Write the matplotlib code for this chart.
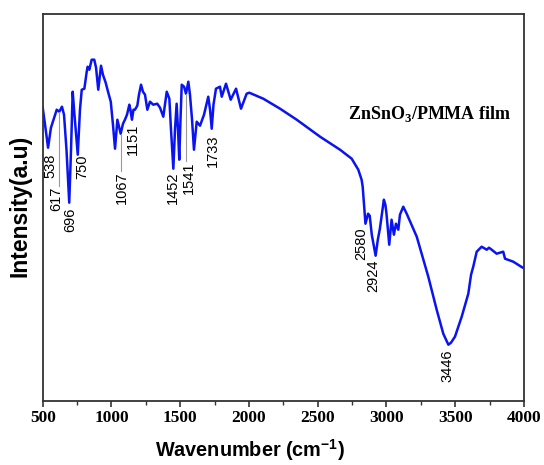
import matplotlib
matplotlib.use("Agg")
import matplotlib.pyplot as plt
from matplotlib.ticker import MultipleLocator

wavenumber = [500, 517, 539, 560, 602, 621, 640, 655, 673, 693, 706, 718, 731, 755, 771, 784,
              803, 820, 827, 839, 856, 875, 888, 904, 917, 924, 938, 958, 977, 995, 1011, 1026,
              1043, 1067, 1084, 1098, 1113, 1130, 1138, 1149, 1160, 1171, 1188, 1200, 1215, 1229,
              1244, 1261, 1280, 1304, 1333, 1353, 1377, 1402, 1421, 1433, 1450, 1462, 1474, 1484,
              1493, 1502, 1511, 1528, 1542, 1559, 1571, 1586, 1600, 1620, 1644, 1673, 1704, 1717,
              1729, 1742, 1760, 1789, 1802, 1833, 1867, 1906, 1942, 1983, 2002, 2104, 2226, 2347,
              2517, 2662, 2747, 2795, 2819, 2827, 2836, 2847, 2866, 2878, 2893, 2921, 2937, 2952,
              2981, 2992, 3000, 3020, 3037, 3054, 3069, 3086, 3098, 3122, 3147, 3220, 3268, 3304,
              3365, 3413, 3450, 3469, 3498, 3547, 3595, 3615, 3631, 3656, 3692, 3729, 3745, 3765,
              3801, 3825, 3849, 3862, 3922, 3991, 4000]
intensity = [293, 276, 253, 273, 291, 289, 294, 286, 251, 198, 251, 309, 286, 246, 291, 311,
             312, 329, 334, 331, 341, 341, 333, 311, 326, 335, 326, 318, 308, 299, 276, 252,
             281, 267, 277, 281, 286, 296, 291, 281, 291, 291, 295, 306, 316, 309,
             306, 291, 299, 296, 297, 293, 284, 309, 302, 271, 232, 271, 297, 271,
             241, 281, 316, 314, 307, 319, 306, 281, 251, 279, 275, 286, 304, 291,
             272, 296, 312, 314, 304, 317, 301, 312, 292, 307, 308, 302, 292, 281,
             264, 251, 242, 231, 221, 214, 197, 177, 187, 185, 166, 145, 161, 172,
             201, 196, 187, 156, 181, 166, 177, 171, 186, 194, 187, 164, 141, 124,
             91, 67, 56, 58, 64, 84, 107, 126, 134, 149, 154, 151, 153, 151,
             147, 148, 149, 142, 139, 133, 133]

peak_labels = ["538", "617", "696", "750", "1067", "1151", "1452", "1541", "1733", "2580", "2924", "3446"]
label_x = [558, 602, 699, 784, 1074, 1159, 1445, 1564, 1736, 2820, 2904, 3440]
label_top = [247, 214, 193, 246, 229, 277, 229, 239, 266, 173, 141, 51]
# leader lines: (x, y_from, y_to)
leader_x = [621, 1067, 1542]
leader_y0 = [289, 267, 307]
leader_y1 = [215, 230, 240]

xticks = [500, 1000, 1500, 2000, 2500, 3000, 3500, 4000]

fig = plt.figure(figsize=(5.44, 4.65), dpi=100)
ax = fig.add_axes([42.7/544, 1 - 400.7/465, (524 - 42.7)/544, (400.7 - 14)/465])

ax.plot(wavenumber, intensity, color="#0A14F0", lw=1.8, solid_joinstyle="round")

for xx, y0, y1 in zip(leader_x, leader_y0, leader_y1):
    ax.plot([xx, xx], [y0, y1], color="#999999", lw=0.8)

for lab, xx, yy in zip(peak_labels, label_x, label_top):
    ax.text(xx, yy, lab, rotation=90, ha="center", va="top",
            fontsize=10.5, family="Liberation Sans", color="black")

ax.text(0.804, 0.741, r"ZnSnO$_\mathregular{3}$/PMMA film", transform=ax.transAxes,
        ha="center", va="center", fontsize=13, family="Liberation Serif",
        fontweight="bold")

ax.set_xlim(500, 4000)
ax.set_ylim(0, 386.7)
ax.set_xticks(xticks)
ax.set_xticklabels([str(t) for t in xticks], family="Liberation Serif",
                   fontweight="bold", fontsize=12.5)
ax.xaxis.set_minor_locator(MultipleLocator(250))
ax.set_yticks([])
ax.tick_params(axis="x", which="major", direction="out", length=4, width=1.2, color="#333333", pad=3)
ax.tick_params(axis="x", which="minor", direction="out", length=3, width=1.0, color="#333333")
for s in ax.spines.values():
    s.set_color("#333333")
    s.set_linewidth(1.3)

fig.text(250/544, 2/465, r"Wavenumber (cm$^\mathregular{-1}$)", family="Liberation Sans",
         fontweight="bold", fontsize=14.3, ha="center", va="bottom")
fig.text(20/544, 1 - 206/465, "Intensity(a.u)", family="Liberation Sans", fontweight="bold",
         fontsize=16.5, rotation=90, ha="center", va="center")

fig.savefig("out.png", dpi=100)
